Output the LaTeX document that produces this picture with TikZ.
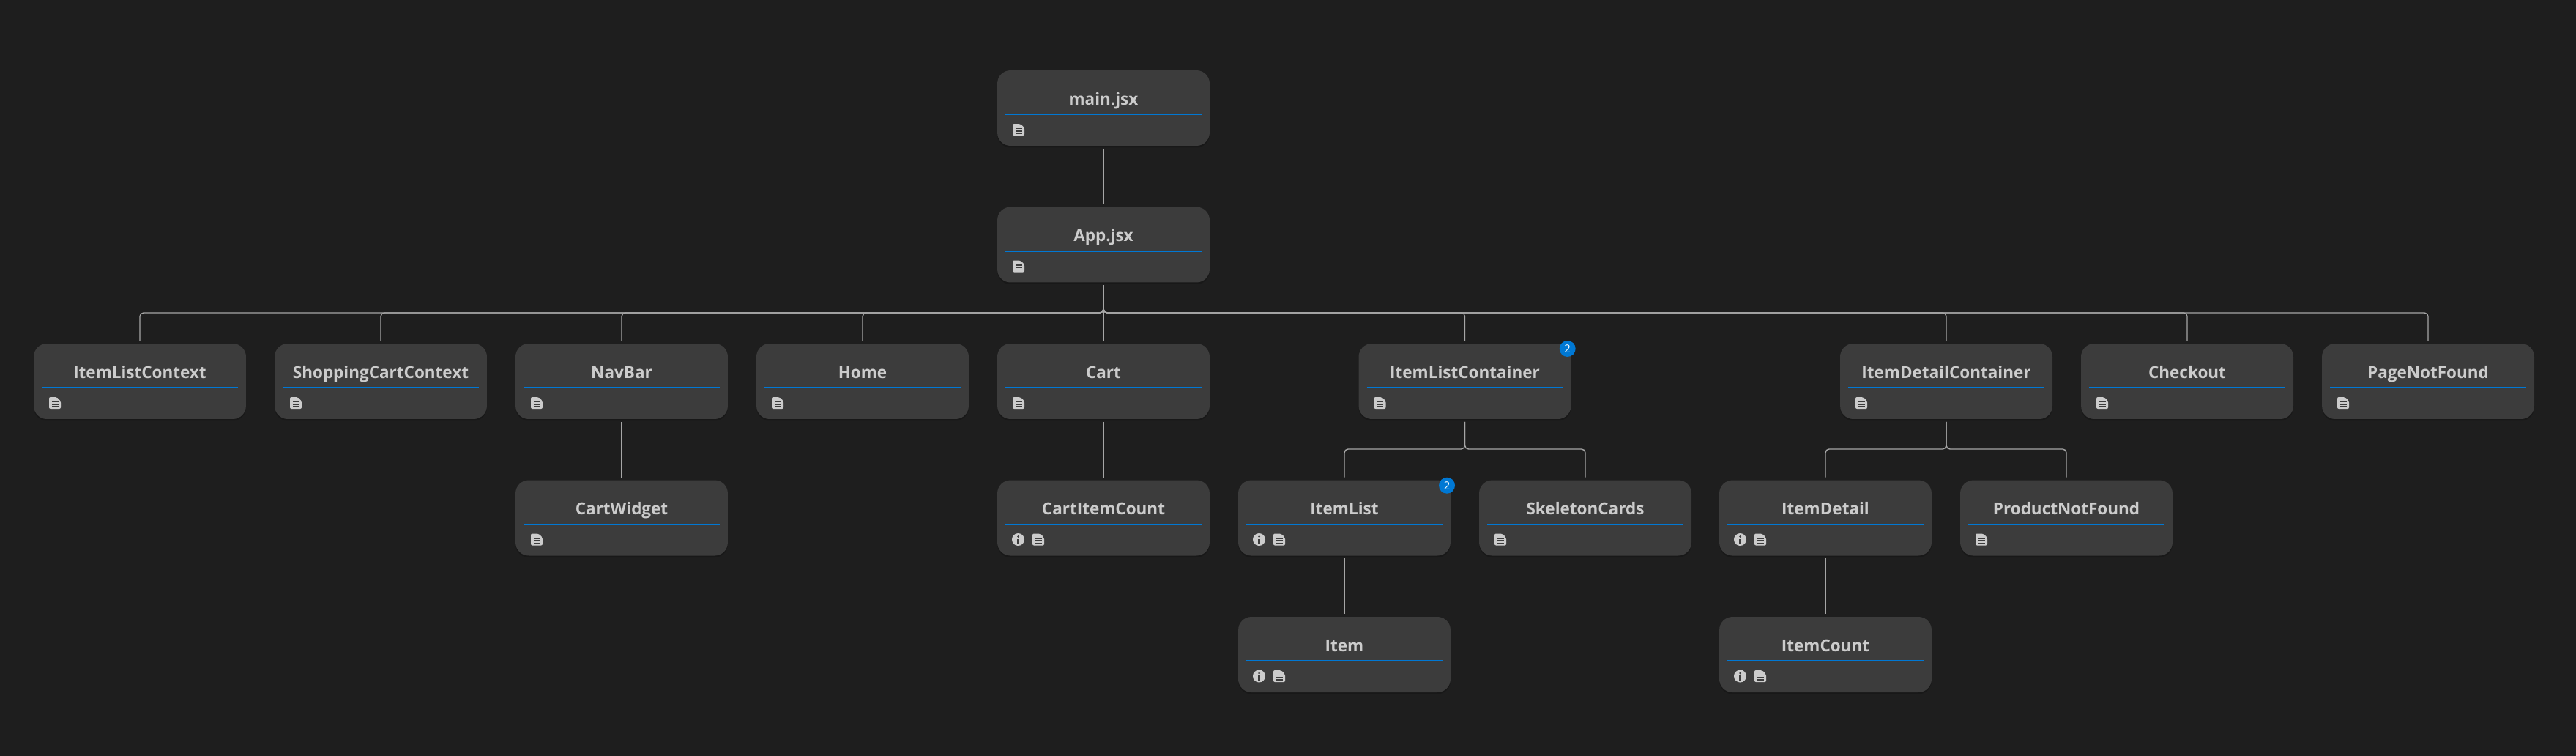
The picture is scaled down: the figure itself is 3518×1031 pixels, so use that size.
\documentclass[tikz,border=0pt]{standalone}
\usepackage{fontspec}
\setmainfont{Open Sans}
\usetikzlibrary{shadows}
\definecolor{ColorBg}{HTML}{1E1E1E}
\definecolor{ColorBox}{HTML}{3C3C3C}
\definecolor{ColorTxt}{HTML}{CCCCCC}
\definecolor{ColorBlue}{HTML}{0078D4}
\definecolor{ColorLink}{HTML}{A6A6A6}
\tikzset{
    compbox/.style={fill=ColorBox, rounded corners=0.36cm, minimum width=5.8cm, minimum height=2.06cm,
        inner sep=0, outer sep=0.08cm, drop shadow={shadow xshift=0cm, shadow yshift=-0.05cm, opacity=0.18, fill=black}},
    comptitle/.style={anchor=base, inner sep=0, text=ColorTxt, font=\fontsize{12.8}{16}\selectfont\bfseries},
    compline/.style={draw=ColorBlue, line width=0.04cm},
    link/.style={draw=ColorLink, line width=0.028cm, rounded corners=0.1cm},
    badge/.style={circle, fill=ColorBlue, inner sep=0, minimum size=0.44cm, text=white, font=\fontsize{8.5}{10}\selectfont},
    docicon/.pic={
        \fill[ColorTxt, rounded corners=0.04cm] (-8,-8)--(2.5,-8)--(8,-2.5)--(8,8)--(-8,8)--cycle;
        \fill[ColorBox] (-4.5,-2.5) rectangle (4.5,-0.8);
        \fill[ColorBox] (-4.5,0.8) rectangle (4.5,2.5);
        \fill[ColorBox] (-4.5,4) rectangle (4.5,5.7);
    },
    infoicon/.pic={
        \fill[ColorTxt] (0,0) circle (8.5);
        \fill[ColorBox] (0,-4) circle (1.5);
        \fill[ColorBox] (-1.3,-1) rectangle (1.3,5.5);
    }
}
%Box: name, x, y, title
\newcommand{\comp}[4]{
    \node[compbox] (#1) at (#2,#3) {};
    \node[comptitle] (#1title) at (#2,#3-4.5) {#4};
    \draw[compline] (#2-134,#3+8.5)--(#2+134,#3+8.5);
}
\newcommand{\compdoc}[4]{
    \comp{#1}{#2}{#3}{#4}
    \pic at (#2-116,#3+29.5) {docicon};
}
\newcommand{\compinfo}[4]{
    \comp{#1}{#2}{#3}{#4}
    \pic at (#2-116.5,#3+29.5) {infoicon};
    \pic at (#2-89,#3+29.5) {docicon};
}
\begin{document}
\begin{tikzpicture}[x=0.02cm,y=-0.02cm]
    \useasboundingbox (0,0) rectangle (3518,1031);
    \fill[ColorBg] (-10,-10) rectangle (3528,1041);
    %Row 1 and 2
    \compdoc{main}{1507}{147.5}{main.jsx}
    \compdoc{app}{1507}{334}{App.jsx}
    %Row 3
    \compdoc{context}{191}{520.5}{ItemListContext}
    \compdoc{shopping}{520}{520.5}{ShoppingCartContext}
    \compdoc{navbar}{849}{520.5}{NavBar}
    \compdoc{home}{1178}{520.5}{Home}
    \compdoc{cart}{1507}{520.5}{Cart}
    \compdoc{listcont}{2000.5}{520.5}{ItemListContainer}
    \compdoc{detailcont}{2658}{520.5}{ItemDetailContainer}
    \compdoc{checkout}{2987}{520.5}{Checkout}
    \compdoc{notfound}{3316}{520.5}{PageNotFound}
    %Row 4
    \compdoc{widget}{849}{707}{CartWidget}
    \compinfo{count}{1507}{707}{CartItemCount}
    \compinfo{itemlist}{1836}{707}{ItemList}
    \compdoc{skeleton}{2165}{707}{SkeletonCards}
    \compinfo{detail}{2493}{707}{ItemDetail}
    \compdoc{product}{2822}{707}{ProductNotFound}
    %Row 5
    \compinfo{item}{1836}{893.5}{Item}
    \compinfo{itemcount}{2493}{893.5}{ItemCount}
    %Badges
    \node[badge] (listbadge) at (2140.7,476) {2};
    \node[badge] (itembadge) at (1976,662.7) {2};
    %Links
    \coordinate (appbus) at (0,427);
    \coordinate (listbus) at (0,613);
    \coordinate (detailbus) at (0,613);
    \draw[link] (main.south)--(app.north);
    \draw[link] (app.south)--(cart.north);
    \foreach \kid in {context,shopping,navbar,home,listcont,detailcont,checkout,notfound}
        \draw[link] (app.south)--(app.south |- appbus)-|(\kid.north);
    \draw[link] (navbar.south)--(widget.north);
    \draw[link] (cart.south)--(count.north);
    \foreach \kid in {itemlist,skeleton}
        \draw[link] (listcont.south)--(listcont.south |- listbus)-|(\kid.north);
    \foreach \kid in {detail,product}
        \draw[link] (detailcont.south)--(detailcont.south |- detailbus)-|(\kid.north);
    \draw[link] (itemlist.south)--(item.north);
    \draw[link] (detail.south)--(itemcount.north);
\end{tikzpicture}
\end{document}
